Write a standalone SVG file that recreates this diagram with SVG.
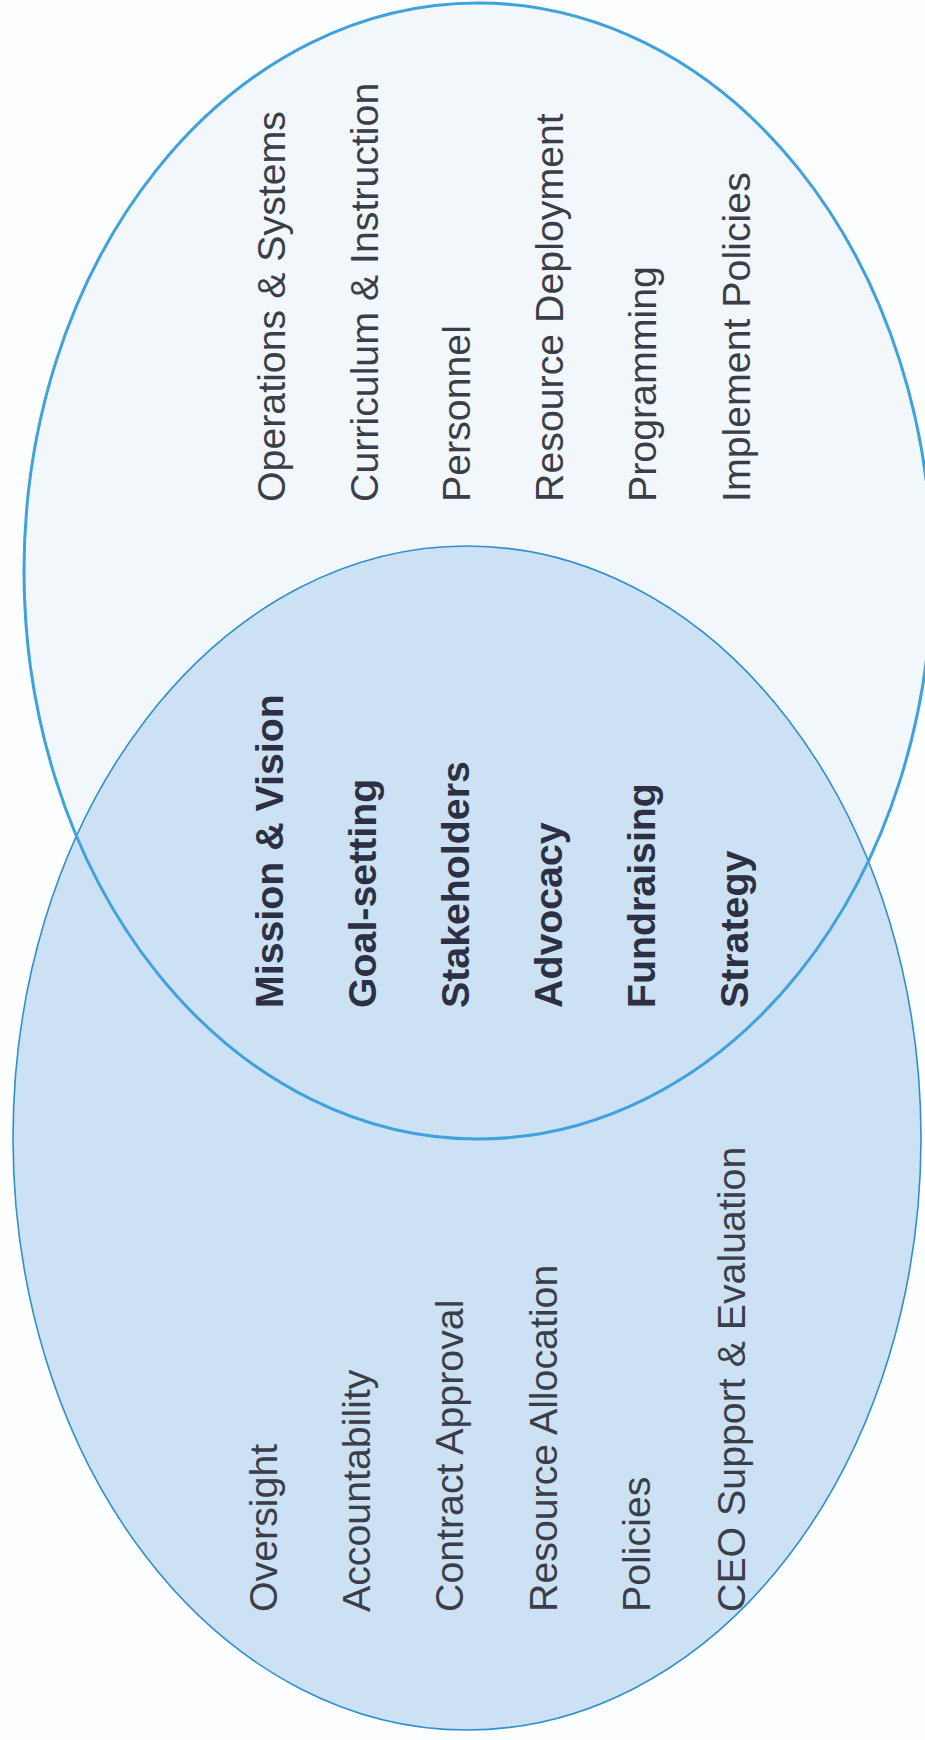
<svg xmlns="http://www.w3.org/2000/svg" width="925" height="1740" viewBox="0 0 925 1740">
<style>
  .lbl { font-family: "Liberation Sans", Arial, sans-serif; font-size: 39.3px; fill: #3b3e48; }
  .bold { font-weight: bold; fill: #2c3042; }
</style>
<rect x="0" y="0" width="925" height="1740" fill="#fdfeff"/>
<g id="operations-ellipse-fill">
  <ellipse cx="478" cy="571" rx="454" ry="568" fill="#f2f7fc"/>
</g>
<g id="board-ellipse">
  <ellipse cx="467" cy="1138" rx="454" ry="592" fill="#cce1f4" stroke="#2f8fcf" stroke-width="1.6"/>
</g>
<g id="operations-ellipse">
  <ellipse cx="478" cy="571" rx="454" ry="568" fill="none" stroke="#3ea2dc" stroke-width="3"/>
</g>
<g id="operations-labels">
  <text class="lbl" transform="translate(285,502) rotate(-90)">Operations &amp; Systems</text>
  <text class="lbl" transform="translate(378,502) rotate(-90)">Curriculum &amp; Instruction</text>
  <text class="lbl" transform="translate(470,502) rotate(-90)">Personnel</text>
  <text class="lbl" transform="translate(563,502) rotate(-90)">Resource Deployment</text>
  <text class="lbl" transform="translate(656,502) rotate(-90)">Programming</text>
  <text class="lbl" transform="translate(750,502) rotate(-90)">Implement Policies</text>
</g>
<g id="shared-labels">
  <text class="lbl bold" transform="translate(283,1008) rotate(-90)">Mission &amp; Vision</text>
  <text class="lbl bold" transform="translate(376,1008) rotate(-90)">Goal-setting</text>
  <text class="lbl bold" transform="translate(469,1008) rotate(-90)">Stakeholders</text>
  <text class="lbl bold" transform="translate(562,1008) rotate(-90)">Advocacy</text>
  <text class="lbl bold" transform="translate(655,1008) rotate(-90)">Fundraising</text>
  <text class="lbl bold" transform="translate(748,1008) rotate(-90)">Strategy</text>
</g>
<g id="board-labels">
  <text class="lbl" transform="translate(277,1612) rotate(-90)">Oversight</text>
  <text class="lbl" transform="translate(370,1612) rotate(-90)">Accountability</text>
  <text class="lbl" transform="translate(463,1612) rotate(-90)">Contract Approval</text>
  <text class="lbl" transform="translate(557,1612) rotate(-90)">Resource Allocation</text>
  <text class="lbl" transform="translate(650,1612) rotate(-90)">Policies</text>
  <text class="lbl" transform="translate(745,1612) rotate(-90)">CEO Support &amp; Evaluation</text>
</g>
</svg>
